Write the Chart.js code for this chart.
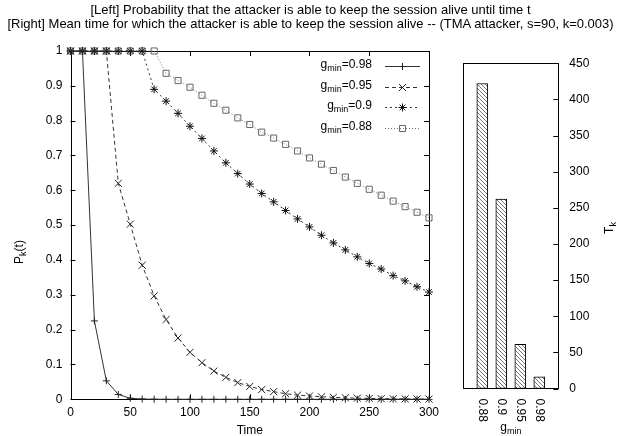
<!DOCTYPE html>
<html>
<head>
<meta charset="utf-8">
<script src="https://cdn.jsdelivr.net/npm/chart.js@4.4.1/dist/chart.umd.min.js"></script>
<style>
  html, body { margin: 0; padding: 0; background: #fff; }
  #wrap { position: relative; width: 621px; height: 436px; overflow: hidden; font-family: "Liberation Sans", Arial, sans-serif; }
  #title { position: absolute; left: 0; top: 3px; width: 621px; text-align: center; font-size: 13px; line-height: 14px; color: #000; white-space: nowrap; }
  #left { position: absolute; left: 0; top: 0; }
  #right { position: absolute; left: 445px; top: 0; }
</style>
</head>
<body>
<div id="wrap">
  <canvas id="left" width="445" height="436" style="width:445px;height:436px"></canvas>
  <canvas id="right" width="176" height="436" style="width:176px;height:436px"></canvas>
  <div id="title">[Left] Probability that the attacker is able to keep the session alive until time t<br>[Right] Mean time for which the attacker is able to keep the session alive -- (TMA attacker, s=90, k=0.003)</div>
</div>
<script>
// left plot: P_k(t) against time, one series per g_min
const time = [0, 10, 20, 30, 40, 50, 60, 70, 80, 90, 100, 110, 120, 130, 140, 150,
              160, 170, 180, 190, 200, 210, 220, 230, 240, 250, 260, 270, 280, 290, 300];
const p098 = [1, 1, 0.225, 0.053, 0.014, 0.003, 0.0008, 0.0002, 0, 0, 0, 0, 0, 0, 0, 0,
              0, 0, 0, 0, 0, 0, 0, 0, 0, 0, 0, 0, 0, 0, 0];
const p095 = [1, 1, 1, 1, 0.62, 0.503, 0.385, 0.297, 0.229, 0.176, 0.135, 0.105, 0.081, 0.063, 0.048, 0.037,
              0.028, 0.022, 0.016, 0.012, 0.0095, 0.0073, 0.0056, 0.0043, 0.0033, 0.0025, 0.0019, 0.0015, 0.0011, 0.0009, 0.0007];
const p090 = [1, 1, 1, 1, 1, 1, 1, 0.89, 0.856, 0.821, 0.784, 0.749, 0.713, 0.679, 0.648, 0.618,
              0.591, 0.567, 0.542, 0.518, 0.495, 0.471, 0.449, 0.429, 0.409, 0.390, 0.374, 0.355, 0.340, 0.323, 0.308];
const p088 = [1, 1, 1, 1, 1, 1, 1, 1, 0.936, 0.915, 0.896, 0.873, 0.850, 0.830, 0.808, 0.789,
              0.767, 0.750, 0.732, 0.713, 0.693, 0.675, 0.657, 0.638, 0.620, 0.603, 0.586, 0.569, 0.553, 0.537, 0.521];
const seriesNames = ['0.98', '0.95', '0.9', '0.88'];

// right plot: mean time T_k for each g_min
const gmin = ['0.88', '0.9', '0.95', '0.98'];
const meanTime = [422, 262, 61, 16];

Chart.defaults.font.family = '"Liberation Sans", Arial, sans-serif';
Chart.defaults.font.size = 12;
Chart.defaults.color = '#000';

const pts = arr => arr.map((v, i) => ({ x: time[i], y: v }));

// text with subscript parts, e.g. [['g'], ['min', true], ['=0.98']]
function richWidth(ctx, parts) {
  let w = 0;
  parts.forEach(p => {
    ctx.font = (p[1] ? '9px' : '12px') + ' "Liberation Sans", Arial, sans-serif';
    w += ctx.measureText(p[0]).width;
  });
  return w;
}
function drawRich(ctx, parts, x, y, align) {
  const w = richWidth(ctx, parts);
  let cx = align === 'right' ? x - w : align === 'center' ? x - w / 2 : x;
  ctx.textAlign = 'left';
  ctx.textBaseline = 'middle';
  ctx.fillStyle = '#000';
  parts.forEach(p => {
    ctx.font = (p[1] ? '9px' : '12px') + ' "Liberation Sans", Arial, sans-serif';
    ctx.fillText(p[0], cx, p[1] ? y + 4 : y);
    cx += ctx.measureText(p[0]).width;
  });
}

const leftDecor = {
  id: 'leftDecor',
  beforeDatasetsDraw(chart) {
    const { ctx, chartArea: a, scales: { x, y } } = chart;
    ctx.save();
    ctx.strokeStyle = '#000';
    ctx.lineWidth = 1;
    ctx.beginPath();
    x.ticks.forEach(t => {
      const px = Math.round(x.getPixelForValue(t.value)) + 0.5;
      ctx.moveTo(px, a.bottom); ctx.lineTo(px, a.bottom - 5);
      ctx.moveTo(px, a.top); ctx.lineTo(px, a.top + 5);
    });
    y.ticks.forEach(t => {
      const py = Math.round(y.getPixelForValue(t.value)) + 0.5;
      ctx.moveTo(a.left, py); ctx.lineTo(a.left + 5, py);
      ctx.moveTo(a.right, py); ctx.lineTo(a.right - 5, py);
    });
    ctx.stroke();
    ctx.strokeRect(Math.round(a.left) + 0.5, Math.round(a.top) + 0.5,
                   Math.round(a.right - a.left), Math.round(a.bottom - a.top));
    ctx.restore();
  },
  afterDraw(chart) {
    const { ctx, chartArea: a } = chart;
    ctx.save();
    // axis titles
    drawRich(ctx, [['Time']], (a.left + a.right) / 2, 431, 'center');
    ctx.save();
    ctx.translate(20, 252);
    ctx.rotate(-Math.PI / 2);
    drawRich(ctx, [['P'], ['k', true], ['(t)']], 0, 0, 'center');
    ctx.restore();
    // legend
    chart.data.datasets.forEach((ds, i) => {
      const ly = 66 + i * 20.5;
      drawRich(ctx, [['g'], ['min', true], ['=' + seriesNames[i]]], 372, ly - 1, 'right');
      ctx.strokeStyle = ds.borderColor;
      ctx.lineWidth = 1;
      ctx.setLineDash(ds.borderDash || []);
      ctx.beginPath();
      ctx.moveTo(385, Math.round(ly) + 0.5);
      ctx.lineTo(420, Math.round(ly) + 0.5);
      ctx.stroke();
      ctx.setLineDash([]);
      ctx.strokeStyle = ds.pointBorderColor;
      ctx.fillStyle = 'rgba(0,0,0,0)';
      Chart.helpers.drawPoint(ctx, {
        pointStyle: ds.pointStyle, radius: ds.pointRadius, rotation: 0, borderWidth: 1
      }, 402.5, Math.round(ly) + 0.5);
    });
    ctx.restore();
  }
};

const lineDs = (data, color, dash, style, radius, pointColor) => ({
  data: pts(data),
  borderColor: color,
  borderWidth: 1,
  borderDash: dash,
  pointStyle: style,
  pointRadius: radius,
  pointBorderColor: pointColor,
  pointBackgroundColor: 'rgba(0,0,0,0)',
  pointBorderWidth: 1,
  tension: 0,
  clip: false
});

new Chart(document.getElementById('left'), {
  type: 'line',
  data: {
    datasets: [
      lineDs(p098, '#333', [], 'cross', 3.5, '#222'),
      lineDs(p095, '#333', [4, 3], 'crossRot', 5, '#222'),
      lineDs(p090, '#333', [2, 3], 'star', 4, '#111'),
      lineDs(p088, '#777', [1, 2], 'rect', 4.3, '#666')
    ]
  },
  options: {
    responsive: false,
    animation: false,
    layout: { padding: { left: 0, right: 10.7, top: 51, bottom: 0 } },
    plugins: { legend: { display: false }, tooltip: { enabled: false } },
    scales: {
      x: {
        type: 'linear', min: 0, max: 300,
        grid: { display: false, drawTicks: false }, border: { display: false },
        ticks: { stepSize: 50, padding: 6, maxRotation: 0 },
        afterFit: s => { s.height = 36.7; }
      },
      y: {
        min: 0, max: 1,
        grid: { display: false, drawTicks: false }, border: { display: false },
        ticks: { stepSize: 0.1, padding: 8, callback: v => String(Number(v.toFixed(1))) },
        afterFit: s => { s.width = 70.5; }
      }
    }
  },
  plugins: [leftDecor]
});

// hatch fill for the bars
function hatch() {
  const c = document.createElement('canvas');
  c.width = 4; c.height = 4;
  const g = c.getContext('2d');
  g.fillStyle = '#fff';
  g.fillRect(0, 0, 4, 4);
  g.strokeStyle = '#555';
  g.lineWidth = 0.8;
  g.beginPath();
  g.moveTo(-1, -1); g.lineTo(5, 5);
  g.stroke();
  return g.createPattern(c, 'repeat');
}

const rightDecor = {
  id: 'rightDecor',
  beforeDatasetsDraw(chart) {
    const { ctx, chartArea: a, scales: { y } } = chart;
    ctx.save();
    ctx.strokeStyle = '#000';
    ctx.lineWidth = 1;
    ctx.beginPath();
    y.ticks.forEach(t => {
      const py = Math.round(y.getPixelForValue(t.value)) + 0.5;
      ctx.moveTo(a.right, py); ctx.lineTo(a.right - 5, py);
    });
    ctx.stroke();
    ctx.strokeRect(Math.round(a.left) + 0.5, Math.round(a.top) + 0.5,
                   Math.round(a.right - a.left), Math.round(a.bottom - a.top));
    ctx.restore();
  },
  afterDraw(chart) {
    const { ctx, chartArea: a, scales: { x } } = chart;
    ctx.save();
    ctx.font = '12px "Liberation Sans", Arial, sans-serif';
    ctx.fillStyle = '#000';
    ctx.textAlign = 'left';
    ctx.textBaseline = 'middle';
    gmin.forEach((lab, i) => {
      ctx.save();
      ctx.translate(x.getPixelForValue(i + 1), a.bottom + 10);
      ctx.rotate(Math.PI / 2);
      ctx.fillText(lab, 0, 0);
      ctx.restore();
    });
    drawRich(ctx, [['g'], ['min', true]], (a.left + a.right) / 2, 428, 'center');
    ctx.save();
    ctx.translate(165, 228);
    ctx.rotate(-Math.PI / 2);
    drawRich(ctx, [['T'], ['k', true]], 0, 0, 'center');
    ctx.restore();
    ctx.restore();
  }
};

new Chart(document.getElementById('right'), {
  type: 'bar',
  data: {
    datasets: [{
      data: meanTime.map((v, i) => ({ x: i + 1, y: v })),
      backgroundColor: hatch(),
      borderColor: '#000',
      borderWidth: 1,
      borderSkipped: false,
      barThickness: 11
    }]
  },
  options: {
    responsive: false,
    animation: false,
    layout: { padding: { left: 18.3, right: 0, top: 63.3, bottom: 0 } },
    plugins: { legend: { display: false }, tooltip: { enabled: false } },
    scales: {
      x: {
        type: 'linear', min: 0, max: 5, offset: false,
        grid: { display: false, drawTicks: false }, border: { display: false },
        ticks: { display: false },
        afterFit: s => { s.height = 47.5; }
      },
      y: {
        position: 'right', min: 0, max: 450,
        grid: { display: false, drawTicks: false }, border: { display: false },
        ticks: { stepSize: 50, padding: 11 },
        afterFit: s => { s.width = 62.7; }
      }
    }
  },
  plugins: [rightDecor]
});
</script>
</body>
</html>
